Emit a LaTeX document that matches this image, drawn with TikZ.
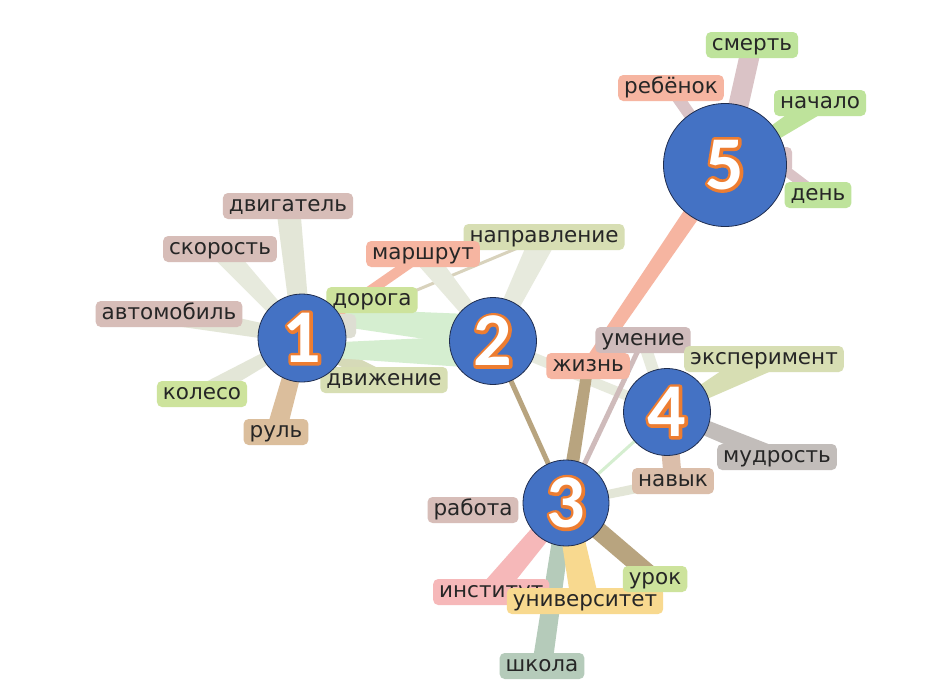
\documentclass[tikz,border=0pt]{standalone}
\usepackage{fontspec}
\setmainfont{DejaVu Sans}
\newfontfamily\digitfont{Carlito}
\usetikzlibrary{calc}
\pgfdeclarelayer{bg}
\pgfdeclarelayer{fg}
\pgfsetlayers{bg,main,fg}

\definecolor{cblue}{HTML}{4472C4}
\definecolor{cdark}{HTML}{1F2D4F}
\definecolor{numorange}{HTML}{ED7D31}
\definecolor{txt}{HTML}{262626}
% label fills
\definecolor{lpink}{HTML}{D7BDB8}
\definecolor{lgreen}{HTML}{CDE39C}
\definecolor{lolive}{HTML}{D7DEB3}
\definecolor{ltan}{HTML}{DBBE9C}
\definecolor{lsalmon}{HTML}{F6B5A1}
\definecolor{lmauve}{HTML}{CFBBBB}
\definecolor{lgrey}{HTML}{C2BDBA}
\definecolor{lnav}{HTML}{DBBEAA}
\definecolor{lrose}{HTML}{F6B8B9}
\definecolor{lyellow}{HTML}{F8D98F}
\definecolor{lsage}{HTML}{B5CBBA}
\definecolor{lbright}{HTML}{BEE39B}
\definecolor{lhid}{HTML}{DEDED3}
\definecolor{lhid5}{HTML}{DAC3C6}
% band colours
\definecolor{bpale}{HTML}{E3E6D7}
\definecolor{bpale2}{HTML}{E7EADD}
\definecolor{bgreen}{HTML}{D5EED0}
\definecolor{bolive}{HTML}{D6DAB8}
\definecolor{btan}{HTML}{B8A47F}
\definecolor{bline}{HTML}{D8D2BC}

\newcommand\band[5]{%
  \fill[#5] let \p1=(#1), \p2=(#2), \n1={atan2(\y2-\y1,\x2-\x1)} in
    ($(\p1)+({\n1+90}:{#3*0.5pt})$) -- ($(\p2)+({\n1+90}:{#4*0.5pt})$) --
    ($(\p2)+({\n1-90}:{#4*0.5pt})$) -- ($(\p1)+({\n1-90}:{#3*0.5pt})$) -- cycle;}

% white digit over an orange stroked copy (PDF text render mode 2)
\newcommand\outdigit[1]{%
  \rlap{\textcolor{numorange}{\special{pdf:literal direct 2 Tr 6 w 1 j}#1%
  \special{pdf:literal direct 0 Tr}}}\textcolor{white}{#1}}

\tikzset{
  lbl/.style={rounded corners=5pt, fill=#1, text=txt, inner xsep=6pt, inner ysep=4pt,
    text height=14pt, text depth=4pt, font=\fontsize{21.5}{24}\selectfont},
  hub/.style={circle, fill=cblue, draw=cdark, line width=0.8pt, inner sep=0pt,
    minimum size=#1, font=\digitfont\bfseries\fontsize{76}{76}\selectfont},
}

\begin{document}
\begin{tikzpicture}[x=1pt,y=-1pt]
\useasboundingbox (0,0) rectangle (940,691);

% labels
\node[lbl=lpink] (dvig) at (288,206) {двигатель};
\node[lbl=lpink] (skor) at (220,249) {скорость};
\node[lbl=lpink] (avto) at (169,314) {автомобиль};
\node[lbl=lgreen] (koles) at (202,394) {колесо};
\node[lbl=ltan] (rul) at (276,432) {руль};
\node[lbl=lhid, minimum width=36pt, minimum height=24pt, inner sep=0pt, text height=0pt, text depth=0pt] (hid1) at (338,326) {};
\node[lbl=lgreen] (dor) at (372,300) {дорога};
\node[lbl=lolive] (dvizh) at (384,380) {движение};
\node[lbl=lolive] (napr) at (544,237) {направление};
\node[lbl=lsalmon] (marsh) at (423,254) {маршрут};
\node[lbl=lmauve] (umen) at (643,340) {умение};
\node[lbl=lsalmon] (zhizn) at (588,366) {жизнь};
\node[lbl=lolive] (eksp) at (764,359) {эксперимент};
\node[lbl=lgrey] (mudr) at (777,457) {мудрость};
\node[lbl=lnav] (navyk) at (673,481) {навык};
\node[lbl=lpink] (rab) at (473,510) {работа};
\node[lbl=lrose, anchor=west] (inst) at (433,592) {институт};
\node[lbl=lyellow] (univ) at (585,601) {университет};
\node[lbl=lgreen] (urok) at (655,579) {урок};
\node[lbl=lsage] (shk) at (542,666) {школа};
\node[lbl=lbright] (smert) at (752,45) {смерть};
\node[lbl=lsalmon] (reb) at (671,88) {ребёнок};
\node[lbl=lbright] (nach) at (820,103) {начало};
\node[lbl=lbright] (den) at (818,195) {день};
\node[lbl=lhid5, minimum width=40pt, minimum height=26pt, inner sep=0pt, text height=0pt, text depth=0pt] (hid5) at (772,160) {};

% hubs
\begin{pgfonlayer}{fg}
\node[hub=88pt] (c1) at (302,338) {\outdigit{1}};
\node[hub=87pt] (c2) at (493,341) {\outdigit{2}};
\node[hub=86pt] (c3) at (566,503) {\outdigit{3}};
\node[hub=87pt] (c4) at (667,412) {\outdigit{4}};
\node[hub=123pt] (c5) at (725,165) {\outdigit{5}};
\end{pgfonlayer}

\coordinate (g1) at (345,318);
\coordinate (g2) at (320,350);
\coordinate (c2u) at (493,332);
\coordinate (c2l) at (493,352);

% bands
\begin{pgfonlayer}{bg}
\fill[white] (0,0) rectangle (940,691);
\band{c1}{dvig}{18}{24}{bpale}
\band{c1}{skor}{12}{22}{bpale2}
\band{c1}{avto}{12}{22}{bpale}
\band{c1}{koles}{10}{18}{bpale}
\band{c1}{rul}{16}{20}{ltan}
\band{c1}{dvizh}{14}{16}{bolive}
\band{c1}{marsh}{10}{10}{lsalmon}
\band{c1}{napr}{3}{3}{bline}
\band{c2u}{g1}{34}{18}{bgreen}
\band{c2l}{g2}{34}{14}{bgreen}
\band{c2}{marsh}{12}{22}{bpale2}
\band{c2}{napr}{14}{26}{bpale2}
\band{c2}{c4}{10}{10}{bpale2}
\band{c2}{c3}{5}{5}{btan}
\band{c5}{zhizn}{18}{12}{lsalmon}
\band{c5}{smert}{20}{20}{lhid5}
\band{c5}{reb}{12}{12}{lhid5}
\band{c5}{nach}{10}{20}{lbright}
\band{hid5}{den}{10}{10}{lhid5}
\band{c3}{zhizn}{14}{11}{btan}
\band{c3}{umen}{5}{5}{lmauve}
\band{c3}{c4}{3}{3}{bgreen}
\band{c3}{navyk}{8}{10}{bpale}
\band{c3}{inst}{18}{24}{lrose}
\band{c3}{shk}{16}{20}{lsage}
\band{c3}{univ}{20}{28}{lyellow}
\band{c3}{urok}{18}{18}{btan}
\band{c4}{eksp}{8}{28}{lolive}
\band{c4}{umen}{12}{12}{bpale2}
\band{c4}{mudr}{14}{18}{lgrey}
\band{c4}{navyk}{18}{18}{lnav}
\end{pgfonlayer}
\end{tikzpicture}
\end{document}
